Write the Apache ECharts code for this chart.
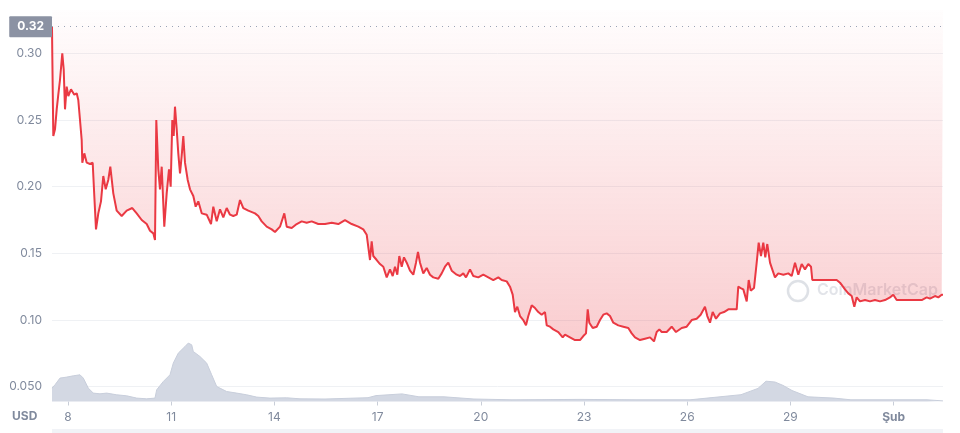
<!DOCTYPE html>
<html>
<head>
<meta charset="utf-8">
<title>Fiyat grafiği</title>
<script src="https://cdn.jsdelivr.net/npm/echarts@6/dist/echarts.min.js"></script>
<style>
  html, body { margin: 0; padding: 0; background: #fff; }
  #chart { width: 960px; height: 433px; }
</style>
</head>
<body>
<div id="chart"></div>
<script>
  // gün (ocak = 1..31, şubat 1 = 32) ve fiyat, USD
  var priceDays = [
    7.535, 7.544, 7.573, 7.622, 7.672, 7.718, 7.767, 7.834, 7.875, 7.913, 7.962, 8.009, 8.087, 8.183, 8.253,
    8.299, 8.349, 8.398, 8.416, 8.474, 8.544, 8.640, 8.718, 8.765, 8.814, 8.881, 8.959, 9.026, 9.096, 9.171,
    9.230, 9.317, 9.416, 9.561, 9.706, 9.869, 9.997, 10.143, 10.288, 10.384, 10.480, 10.529, 10.567, 10.625,
    10.674, 10.724, 10.799, 10.869, 10.936, 10.985, 11.032, 11.073, 11.110, 11.160, 11.206, 11.256, 11.305,
    11.352, 11.401, 11.480, 11.547, 11.643, 11.712, 11.788, 11.887, 12.032, 12.157, 12.224, 12.323, 12.419,
    12.515, 12.613, 12.709, 12.805, 12.904, 13.000, 13.096, 13.241, 13.436, 13.532, 13.631, 13.776, 13.922,
    14.017, 14.163, 14.288, 14.358, 14.503, 14.648, 14.794, 14.939, 15.084, 15.276, 15.471, 15.666, 15.858,
    16.052, 16.247, 16.439, 16.584, 16.683, 16.730, 16.779, 16.828, 16.875, 16.974, 17.070, 17.166, 17.265,
    17.360, 17.439, 17.506, 17.573, 17.631, 17.701, 17.767, 17.846, 17.942, 18.038, 18.116, 18.174, 18.233,
    18.328, 18.427, 18.523, 18.619, 18.765, 18.863, 18.959, 19.055, 19.154, 19.299, 19.395, 19.491, 19.570,
    19.686, 19.782, 19.927, 20.073, 20.218, 20.363, 20.509, 20.607, 20.753, 20.849, 20.927, 20.994, 21.061,
    21.140, 21.235, 21.314, 21.381, 21.480, 21.576, 21.672, 21.770, 21.866, 21.916, 22.012, 22.108, 22.253,
    22.381, 22.448, 22.593, 22.738, 22.884, 22.980, 23.058, 23.108, 23.154, 23.253, 23.369, 23.465, 23.561,
    23.660, 23.756, 23.852, 23.997, 24.142, 24.288, 24.387, 24.483, 24.628, 24.773, 24.919, 25.035, 25.113,
    25.189, 25.259, 25.404, 25.549, 25.674, 25.840, 25.985, 26.131, 26.276, 26.392, 26.517, 26.584, 26.663,
    26.741, 26.837, 26.953, 27.070, 27.195, 27.340, 27.439, 27.485, 27.555, 27.631, 27.730, 27.788, 27.846,
    27.942, 28.020, 28.078, 28.145, 28.212, 28.270, 28.328, 28.407, 28.485, 28.552, 28.648, 28.794, 28.939,
    29.038, 29.134, 29.230, 29.328, 29.424, 29.520, 29.599, 29.637, 29.811, 30.006, 30.201, 30.346, 30.442,
    30.587, 30.683, 30.782, 30.858, 30.927, 31.023, 31.169, 31.314, 31.459, 31.605, 31.750, 31.895, 31.991,
    32.090, 32.235, 32.427, 32.622, 32.817, 32.962, 33.058, 33.203, 33.299, 33.398, 33.436
  ]
  var prices = [
    0.320, 0.298, 0.238, 0.243, 0.258, 0.269, 0.280, 0.300, 0.288, 0.258, 0.275, 0.268, 0.273, 0.269, 0.270,
    0.265, 0.250, 0.235, 0.218, 0.225, 0.218, 0.217, 0.218, 0.193, 0.168, 0.180, 0.189, 0.208, 0.198, 0.205,
    0.215, 0.195, 0.182, 0.178, 0.182, 0.184, 0.180, 0.175, 0.172, 0.167, 0.165, 0.160, 0.250, 0.213,
    0.198, 0.215, 0.170, 0.195, 0.213, 0.200, 0.250, 0.238, 0.260, 0.243, 0.225, 0.210, 0.223,
    0.238, 0.218, 0.205, 0.198, 0.193, 0.185, 0.189, 0.180, 0.179, 0.172, 0.185, 0.174, 0.183,
    0.177, 0.184, 0.179, 0.178, 0.179, 0.190, 0.184, 0.182, 0.180, 0.178, 0.174, 0.170, 0.168,
    0.166, 0.170, 0.180, 0.170, 0.169, 0.172, 0.174, 0.173, 0.174, 0.172, 0.172, 0.173, 0.172,
    0.175, 0.172, 0.170, 0.168, 0.164, 0.163, 0.145, 0.159, 0.148, 0.145, 0.142, 0.140, 0.132,
    0.138, 0.133, 0.140, 0.134, 0.148, 0.140, 0.147, 0.143, 0.137, 0.134, 0.143, 0.151, 0.143,
    0.135, 0.139, 0.134, 0.132, 0.131, 0.135, 0.140, 0.143, 0.137, 0.134, 0.133, 0.135, 0.132,
    0.138, 0.133, 0.132, 0.134, 0.132, 0.130, 0.132, 0.130, 0.129, 0.125, 0.119, 0.106, 0.110,
    0.103, 0.100, 0.096, 0.103, 0.111, 0.109, 0.106, 0.104, 0.106, 0.096, 0.095, 0.093, 0.091,
    0.087, 0.089, 0.087, 0.085, 0.085, 0.088, 0.090, 0.108, 0.098, 0.094, 0.095, 0.100, 0.104,
    0.105, 0.103, 0.098, 0.096, 0.095, 0.094, 0.090, 0.087, 0.085, 0.086, 0.087, 0.084, 0.091,
    0.093, 0.091, 0.091, 0.095, 0.091, 0.094, 0.095, 0.100, 0.101, 0.104, 0.110, 0.103, 0.098,
    0.106, 0.101, 0.105, 0.106, 0.108, 0.108, 0.108, 0.125, 0.124, 0.123, 0.114, 0.130, 0.122,
    0.124, 0.143, 0.158, 0.148, 0.158, 0.147, 0.157, 0.143, 0.137, 0.132, 0.135, 0.134, 0.135,
    0.133, 0.143, 0.134, 0.142, 0.138, 0.142, 0.140, 0.130, 0.130, 0.130, 0.130, 0.130, 0.128,
    0.123, 0.120, 0.118, 0.110, 0.117, 0.114, 0.115, 0.114, 0.115, 0.114, 0.115, 0.117, 0.119,
    0.115, 0.115, 0.115, 0.115, 0.115, 0.117, 0.116, 0.118, 0.117, 0.119, 0.119
  ]

  // işlem hacmi (göreli)
  var volumeDays = [
    7.535, 7.622, 7.767, 7.962, 8.154, 8.349, 8.445, 8.494, 8.590, 8.735, 8.930, 9.125, 9.416, 9.706, 9.997,
    10.288, 10.529, 10.578, 10.770, 10.965, 11.061, 11.206, 11.401, 11.497, 11.596, 11.642, 11.837, 12.032,
    12.177, 12.323, 12.613, 12.904, 13.195, 13.485, 13.872, 14.358, 14.744, 15.471, 16.721, 16.953, 17.709,
    18.203, 18.930, 19.802, 20.907, 22.884, 24.599, 26.081, 26.576, 27.564, 28.058, 28.291, 28.552, 28.785,
    29.047, 29.512, 30.267, 30.762, 31.983, 32.971, 33.436
  ]
  var volumes = [
    13.4, 16.7, 23.4, 24.4, 25.7, 26.7, 23.4, 25.0, 13.4, 8.4, 7.7, 8.4, 6.7, 5.7, 3.4,
    2.7, 3.4, 11.7, 20.0, 26.7, 38.4, 48.4, 55.0, 58.4, 56.7, 50.0, 45.0, 38.4,
    26.7, 15.0, 10.0, 8.4, 6.7, 4.4, 3.4, 3.7, 2.7, 2.5, 3.8, 5.9, 7.6,
    4.7, 4.7, 2.5, 1.7, 2.1, 1.7, 1.7, 3.4, 6.8, 13.1, 20.3, 19.5, 16.1,
    11.0, 4.7, 3.4, 1.7, 1.7, 1.7, 0.6
  ]

  var xTicks = [8, 11, 14, 17, 20, 23, 26, 29, 32]
  var xTickLabels = ['8', '11', '14', '17', '20', '23', '26', '29', 'Şub']
  var yTicks = [0.05, 0.1, 0.15, 0.2, 0.25, 0.3]
  var yTickLabels = ['0.050', '0.10', '0.15', '0.20', '0.25', '0.30']

  var xMin = 7.535
  var xMax = 33.436
  var maxPrice = Math.max.apply(null, prices)

  var priceData = priceDays.map(function (d, i) { return [d, prices[i]] })
  var volumeData = volumeDays.map(function (d, i) { return [d, volumes[i]] })

  var gray = '#808a9d'
  var font = 'Inter, "Noto Sans", sans-serif'

  var chart = echarts.init(document.getElementById('chart'))

  chart.setOption({
    animation: false,
    textStyle: { fontFamily: font },
    grid: [
      { left: 52, right: 17, top: 10, bottom: 31.5 },
      { left: 52, right: 17, top: 331.5, bottom: 31.5 }
    ],
    xAxis: [
      {
        type: 'value',
        gridIndex: 0,
        min: xMin,
        max: xMax,
        axisLine: { show: false },
        axisTick: { show: true, customValues: xTicks, length: 4, lineStyle: { color: '#c9ced8' } },
        axisLabel: {
          customValues: xTicks,
          color: gray,
          fontSize: 12,
          margin: 10,
          formatter: function (v) {
            var i = xTicks.indexOf(v)
            return i === xTicks.length - 1 ? '{m|' + xTickLabels[i] + '}' : xTickLabels[i]
          },
          rich: { m: { fontWeight: 'bold', color: gray, fontSize: 12, fontFamily: font } }
        },
        splitLine: { show: false }
      },
      {
        type: 'value',
        gridIndex: 1,
        min: xMin,
        max: xMax,
        show: false
      }
    ],
    yAxis: [
      {
        type: 'value',
        gridIndex: 0,
        min: 0.0389,
        max: 0.3325,
        axisLine: { show: false },
        axisTick: { show: false, customValues: yTicks },
        axisLabel: {
          customValues: yTicks,
          color: gray,
          fontSize: 12,
          margin: 10,
          formatter: function (v) {
            var i = yTicks.indexOf(v)
            return i >= 0 ? yTickLabels[i] : ''
          }
        },
        splitLine: { lineStyle: { color: '#eff1f4', width: 1 } }
      },
      {
        type: 'value',
        gridIndex: 1,
        min: 0,
        max: 70,
        show: false
      }
    ],
    graphic: [
      {
        type: 'text',
        left: 12,
        top: 410,
        style: { text: 'USD', fill: gray, font: 'bold 12px ' + font }
      },
      // filigran
      {
        type: 'circle',
        shape: { cx: 798, cy: 291, r: 10 },
        style: { fill: 'none', stroke: 'rgba(190,196,206,0.5)', lineWidth: 2.5 },
        z: 1
      },
      {
        type: 'text',
        left: 817,
        top: 282,
        style: { text: 'CoinMarketCap', fill: 'rgba(190,196,206,0.45)', font: '600 16px ' + font },
        z: 1
      },
      {
        type: 'rect',
        shape: { x: 52, y: 429, width: 891, height: 4 },
        style: { fill: '#f1f3f7' }
      }
    ],
    series: [
      {
        name: 'Hacim',
        type: 'line',
        xAxisIndex: 1,
        yAxisIndex: 1,
        data: volumeData,
        showSymbol: false,
        silent: true,
        lineStyle: { color: '#c8cedb', width: 1 },
        areaStyle: { color: '#d3d8e3', opacity: 1 },
        z: 1
      },
      {
        name: 'Fiyat',
        type: 'line',
        data: priceData,
        showSymbol: false,
        lineStyle: { color: '#ea3943', width: 2 },
        areaStyle: {
          origin: 'end',
          color: new echarts.graphic.LinearGradient(0, 0, 0, 1, [
            { offset: 0, color: 'rgba(234,57,67,0.01)' },
            { offset: 1, color: 'rgba(234,57,67,0.36)' }
          ])
        },
        markLine: {
          silent: true,
          symbol: 'none',
          lineStyle: { type: [1, 5], color: '#9aa3b5', width: 1 },
          label: {
            position: 'start',
            distance: 0,
            formatter: maxPrice.toFixed(2),
            color: '#fff',
            fontWeight: 'bold',
            fontSize: 12,
            fontFamily: font,
            backgroundColor: '#8b92a3',
            padding: [5, 8, 4, 8],
            borderRadius: 1
          },
          data: [{ yAxis: maxPrice }]
        },
        z: 3
      }
    ]
  })
</script>
</body>
</html>
